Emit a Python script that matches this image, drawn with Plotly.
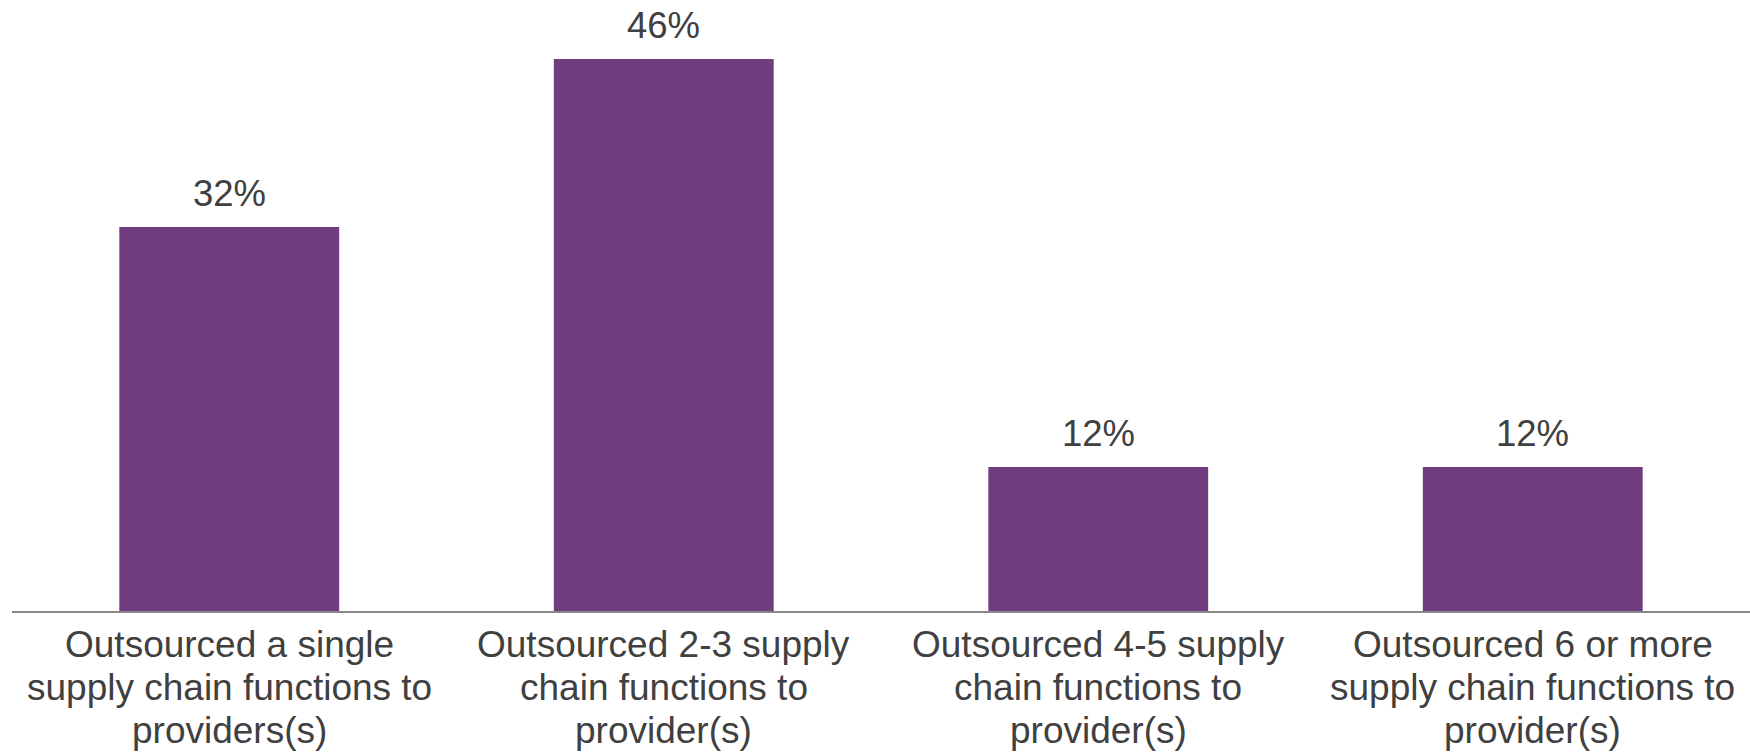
import plotly.graph_objects as go

categories = [
    "Outsourced a single<br>supply chain functions to<br>providers(s)",
    "Outsourced 2-3 supply<br>chain functions to<br>provider(s)",
    "Outsourced 4-5 supply<br>chain functions to<br>provider(s)",
    "Outsourced 6 or more<br>supply chain functions to<br>provider(s)",
]
values = [32, 46, 12, 12]
value_labels = [f"{v}%" for v in values]

BAR_COLOR = "#713C80"
TEXT_COLOR = "#404040"
AXIS_COLOR = "#888888"
FONT = "Liberation Sans, Arial, sans-serif"
FS_VAL = 36.5
FS_CAT = 37

fig = go.Figure()
fig.add_trace(go.Bar(
    x=categories,
    y=values,
    marker=dict(color=BAR_COLOR, line=dict(width=0)),
    hoverinfo="skip",
))

# value labels above bars
for c, v, t in zip(categories, values, value_labels):
    fig.add_annotation(
        x=c, y=v, text=t, showarrow=False,
        yanchor="bottom", yshift=11,
        font=dict(family=FONT, size=FS_VAL, color=TEXT_COLOR),
    )

# category labels (one annotation per line, to match tight line spacing)
first_offset = 33.2
line_step = 43
for c in categories:
    for i, line in enumerate(c.split("<br>")):
        fig.add_annotation(
            x=c, y=0, text=line, showarrow=False,
            yanchor="middle", yshift=-(first_offset + i * line_step),
            font=dict(family=FONT, size=FS_CAT, color=TEXT_COLOR),
        )

fig.update_layout(
    width=1750, height=752,
    margin=dict(l=12, r=0, t=0, b=141),
    paper_bgcolor="white", plot_bgcolor="white",
    bargap=0.494,
    showlegend=False,
    font=dict(family=FONT, size=FS_CAT, color=TEXT_COLOR),
)
fig.update_xaxes(
    showline=True, linecolor=AXIS_COLOR, linewidth=2,
    showgrid=False, ticks="", zeroline=False,
    showticklabels=False,
    automargin=False,
)
fig.update_yaxes(
    visible=False, range=[0, 50.92], showgrid=False, zeroline=False,
)

fig.write_html(
    "out.html",
    config={"displayModeBar": False},
    post_script="document.body.style.margin='0';document.body.style.overflow='hidden';",
)
